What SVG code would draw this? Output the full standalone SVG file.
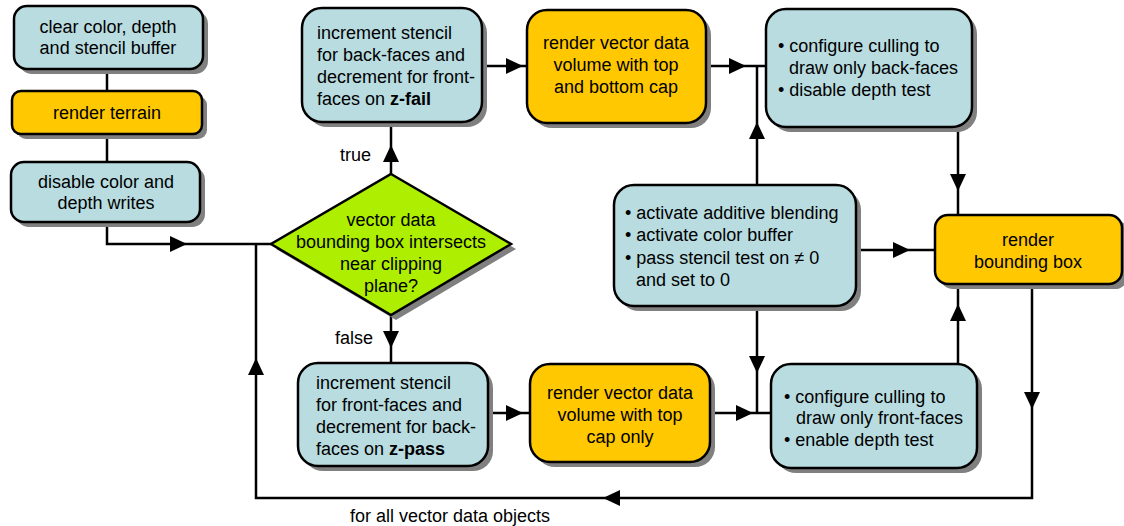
<svg xmlns="http://www.w3.org/2000/svg" xmlns:xlink="http://www.w3.org/1999/xlink" width="1124" height="526" viewBox="0 0 1124 526">
<style>
  text { font-family: "Liberation Sans", Arial, sans-serif; font-size: 18px; fill: #000; }
  .c { text-anchor: middle; }
  .b { font-weight: bold; }
  .box { stroke: #000; stroke-width: 2.5; }
  .cy { fill: #B8DCE0; }
  .or { fill: #FFC800; }
  .gr { fill: #AEEE00; }
  .sh { fill: #808080; }
  .ln { fill: none; stroke: #000; stroke-width: 2.5; }
</style>
<defs>
  <path id="ah" d="M0,0 L-17,-8 L-17,8 Z" fill="#000"/>
</defs>

<g id="connectors">
  <path class="ln" d="M107,69 V91"/>
  <path class="ln" d="M107,134 V162"/>
  <path class="ln" d="M107,222 V244 H271"/>
  <path class="ln" d="M1032,284 V498 H256 V244"/>
  <path class="ln" d="M391,174 V122"/>
  <path class="ln" d="M391,315 V363"/>
  <path class="ln" d="M482,66 H527"/>
  <path class="ln" d="M706,66 H766"/>
  <path class="ln" d="M757,66 V185"/>
  <path class="ln" d="M958,128 V215"/>
  <path class="ln" d="M856,250 H935"/>
  <path class="ln" d="M958,364 V284"/>
  <path class="ln" d="M757,305 V413"/>
  <path class="ln" d="M488,413 H530"/>
  <path class="ln" d="M710,413 H771"/>
  <use xlink:href="#ah" transform="translate(187,244)"/>
  <use xlink:href="#ah" transform="translate(391,145) rotate(-90)"/>
  <use xlink:href="#ah" transform="translate(391,348) rotate(90)"/>
  <use xlink:href="#ah" transform="translate(523,66)"/>
  <use xlink:href="#ah" transform="translate(746,66)"/>
  <use xlink:href="#ah" transform="translate(757,122) rotate(-90)"/>
  <use xlink:href="#ah" transform="translate(958,191) rotate(90)"/>
  <use xlink:href="#ah" transform="translate(910,250)"/>
  <use xlink:href="#ah" transform="translate(958,304) rotate(-90)"/>
  <use xlink:href="#ah" transform="translate(1032,409) rotate(90)"/>
  <use xlink:href="#ah" transform="translate(603,498) rotate(180)"/>
  <use xlink:href="#ah" transform="translate(256,358) rotate(-90)"/>
  <use xlink:href="#ah" transform="translate(757,373) rotate(90)"/>
  <use xlink:href="#ah" transform="translate(523,413)"/>
  <use xlink:href="#ah" transform="translate(753,413)"/>
  <text x="371" y="161" text-anchor="end">true</text>
  <text x="373" y="344" text-anchor="end">false</text>
  <text class="c" x="450" y="522">for all vector data objects</text>
</g>

<g id="n-clear">
  <rect class="sh" x="19" y="11" width="189" height="63" rx="13"/>
  <rect class="box cy" x="14" y="6" width="189" height="63" rx="13"/>
  <text class="c" x="108" y="33">clear color, depth</text>
  <text class="c" x="108" y="54">and stencil buffer</text>
</g>

<g id="n-terrain">
  <rect class="sh" x="17" y="96" width="190" height="43" rx="9"/>
  <rect class="box or" x="12" y="91" width="190" height="43" rx="9"/>
  <text class="c" x="107" y="119">render terrain</text>
</g>

<g id="n-disable">
  <rect class="sh" x="16" y="167" width="189" height="60" rx="13"/>
  <rect class="box cy" x="11" y="162" width="189" height="60" rx="13"/>
  <text class="c" x="106" y="188">disable color and</text>
  <text class="c" x="106" y="209">depth writes</text>
</g>

<g id="n-decision">
  <polygon class="sh" points="396,179 516,249 396,320 276,249"/>
  <polygon class="box gr" points="391,174 511,244 391,315 271,244"/>
  <text class="c" x="391" y="226">vector data</text>
  <text class="c" x="391" y="248">bounding box intersects</text>
  <text class="c" x="391" y="270">near clipping</text>
  <text class="c" x="391" y="292">plane?</text>
</g>

<g id="n-zfail">
  <rect class="sh" x="307" y="13" width="180" height="114" rx="20"/>
  <rect class="box cy" x="302" y="8" width="180" height="114" rx="20"/>
  <text x="317" y="39">increment stencil</text>
  <text x="317" y="61">for back-faces and</text>
  <text x="317" y="83">decrement for front-</text>
  <text x="317" y="105">faces on <tspan class="b">z-fail</tspan></text>
</g>

<g id="n-render-topbottom">
  <rect class="sh" x="532" y="15" width="179" height="113" rx="20"/>
  <rect class="box or" x="527" y="10" width="179" height="113" rx="20"/>
  <text class="c" x="616" y="49">render vector data</text>
  <text class="c" x="616" y="71">volume with top</text>
  <text class="c" x="616" y="93">and bottom cap</text>
</g>

<g id="n-backfaces">
  <rect class="sh" x="771" y="14" width="206" height="118" rx="20"/>
  <rect class="box cy" x="766" y="9" width="206" height="118" rx="20"/>
  <text x="778" y="52">• configure culling to</text>
  <text x="789" y="74">draw only back-faces</text>
  <text x="778" y="96">• disable depth test</text>
</g>

<g id="n-activate">
  <rect class="sh" x="619" y="190" width="242" height="121" rx="20"/>
  <rect class="box cy" x="614" y="185" width="242" height="121" rx="20"/>
  <text x="625" y="219">• activate additive blending</text>
  <text x="625" y="241">• activate color buffer</text>
  <text x="625" y="264">• pass stencil test on ≠ 0</text>
  <text x="636" y="286">and set to 0</text>
</g>

<g id="n-boundingbox">
  <rect class="sh" x="940" y="220" width="188" height="69" rx="13"/>
  <rect class="box or" x="935" y="215" width="187" height="69" rx="13"/>
  <text class="c" x="1028" y="246">render</text>
  <text class="c" x="1028" y="268">bounding box</text>
</g>

<g id="n-zpass">
  <rect class="sh" x="303" y="368" width="190" height="103" rx="20"/>
  <rect class="box cy" x="298" y="363" width="190" height="103" rx="20"/>
  <text x="316" y="389">increment stencil</text>
  <text x="316" y="411">for front-faces and</text>
  <text x="316" y="433">decrement for back-</text>
  <text x="316" y="455">faces on <tspan class="b">z-pass</tspan></text>
</g>

<g id="n-render-top">
  <rect class="sh" x="535" y="369" width="180" height="98" rx="20"/>
  <rect class="box or" x="530" y="364" width="180" height="98" rx="20"/>
  <text class="c" x="620" y="399">render vector data</text>
  <text class="c" x="620" y="421">volume with top</text>
  <text class="c" x="620" y="443">cap only</text>
</g>

<g id="n-frontfaces">
  <rect class="sh" x="776" y="369" width="206" height="104" rx="20"/>
  <rect class="box cy" x="771" y="364" width="206" height="104" rx="20"/>
  <text x="784" y="403">• configure culling to</text>
  <text x="796" y="424">draw only front-faces</text>
  <text x="784" y="446">• enable depth test</text>
</g>
</svg>
